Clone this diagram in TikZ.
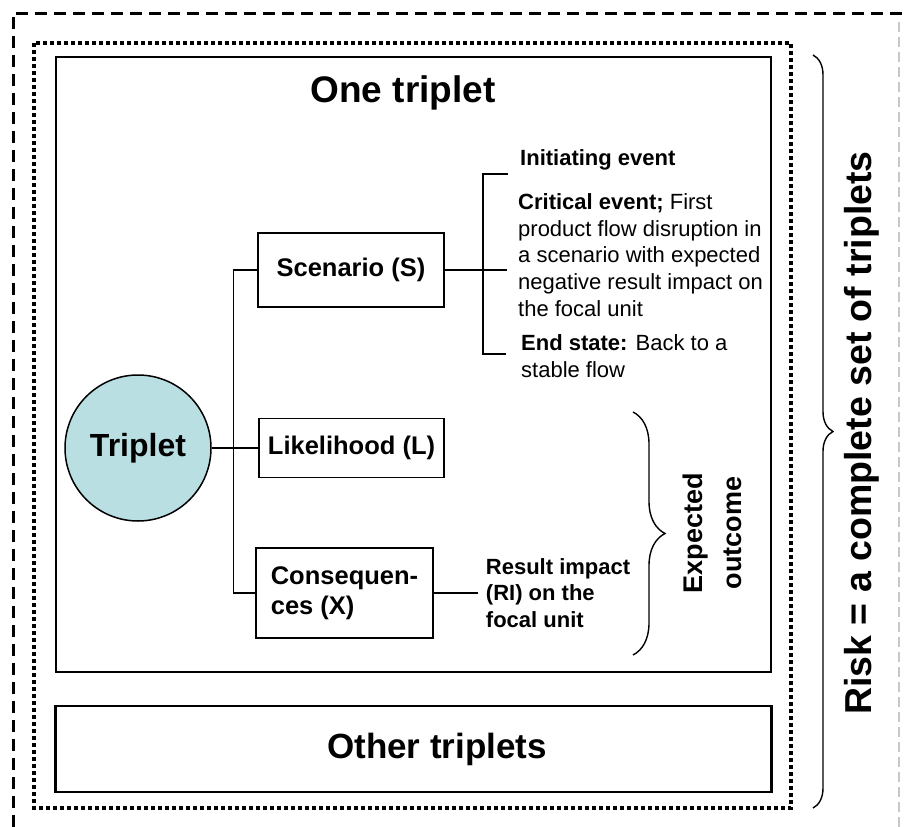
\documentclass[tikz,border=0pt]{standalone}
\usepackage{fontspec}
\setmainfont{Liberation Sans}
\usepackage{xcolor}
\usetikzlibrary{positioning,decorations.pathreplacing}
\definecolor{tripletcolor}{HTML}{B9DFE3}
\definecolor{framegray}{HTML}{C8C8C8}
\tikzset{
  partbox/.style={draw, line width=1.5pt, inner sep=0pt, font=\fontsize{25.5}{30.5}\selectfont\bfseries},
  link/.style={line width=1.3pt},
  sidetext/.style={anchor=west, inner sep=0pt, align=left, font=\fontsize{22}{26.6}\selectfont},
  bigbrace/.style={decorate, line width=1.4pt, decoration={brace, amplitude=#1}}
}

\begin{document}
\begin{tikzpicture}[x=1pt, y=-1pt]
  \useasboundingbox (0,0) rectangle (905,827);
  % frames
  \draw[line width=3pt, dash pattern=on 12pt off 7pt] (13,827) -- (13,13) -- (905,13);
  \draw[framegray, line width=1.5pt, dash pattern=on 10pt off 5pt] (899,22) -- (899,827);
  \draw[line width=3.5pt, dash pattern=on 4pt off 3pt] (34,43) rectangle (791,808);
  \draw[line width=2.5pt] (56,57) rectangle (771,672);
  \node[draw, line width=2.5pt, minimum width=716pt, minimum height=86pt] (other) at (413.5,749) {};
  \node[font=\fontsize{35}{40}\selectfont\bfseries] (othertitle) at (437,749) {Other triplets};
  \node[font=\fontsize{37}{42}\selectfont\bfseries] (onetitle) at (403,93) {One triplet};

  % triplet and its parts
  \node[circle, draw, line width=1.5pt, fill=tripletcolor, minimum size=146pt, inner sep=0pt,
        font=\fontsize{32}{38}\selectfont\bfseries] (trip) at (138,448) {Triplet};
  \node[partbox, minimum width=186pt, minimum height=74pt] (scen) at (351,270) {Scenario (S)};
  \node[partbox, minimum width=185pt, minimum height=59pt] (likely) at (351.5,448) {Likelihood (L)};
  \node[partbox, minimum width=177pt, minimum height=90pt, align=left] (cons) at (344.5,593) {Consequen-\\ces (X)};

  \draw[link] (trip.east) -- (likely.west);
  \draw[link] (scen.west) -- ++(-24,0) |- (cons.west);

  % scenario bracket
  \coordinate (brtop) at (483,174);
  \coordinate (brbot) at (483,354);
  \draw[link] (scen.east) -- (scen.east -| 507,0);
  \draw[link] ([xshift=25pt]brtop) -- (brtop) -- (brbot) -- ([xshift=23pt]brbot);
  \node[sidetext, font=\fontsize{22}{26.6}\selectfont\bfseries] (init) at (520,160) {Initiating event};
  \node[sidetext] (crit) at (518,255) {\textbf{Critical event;} First\\product flow disruption in\\a scenario with expected\\negative result impact on\\the focal unit};
  \node[sidetext] (endst) at (521,356) {\textbf{End state:} Back to a\\stable flow};

  % consequences
  \draw[link] (cons.east) -- ++(44,0) coordinate (resend);
  \node[sidetext, font=\fontsize{22}{26.6}\selectfont\bfseries, right=8pt of resend] (result) {Result impact\\(RI) on the\\focal unit};

  % braces
  \draw[bigbrace=32pt] (633,412) -- (633,655);
  \node[rotate=90, align=center, font=\fontsize{27}{39}\selectfont\bfseries] (expected) at (712,533) {Expected\\outcome};
  \draw[bigbrace=20pt] (813,55) -- (813,808);
  \node[rotate=90, font=\fontsize{37.5}{42}\selectfont\bfseries] (risk) at (862,433) {Risk = a complete set of triplets};
\end{tikzpicture}
\end{document}
